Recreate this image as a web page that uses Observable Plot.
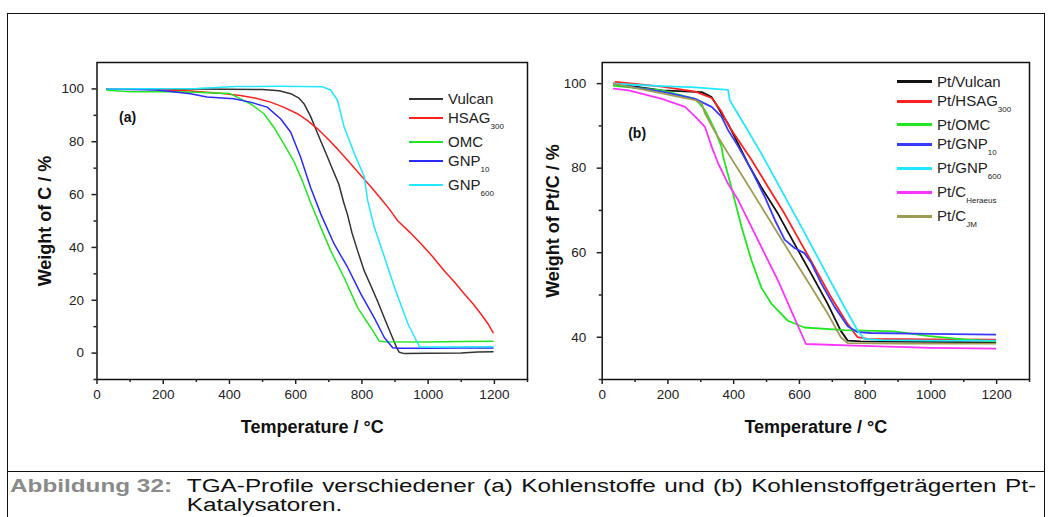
<!DOCTYPE html>
<html>
<head>
<meta charset="utf-8">
<script src="https://cdn.jsdelivr.net/npm/d3@7"></script>
<script src="https://cdn.jsdelivr.net/npm/@observablehq/plot@0.6"></script>
<style>
  html, body { margin: 0; padding: 0; background: #fff; }
  body { font-family: Arial, "Liberation Sans", sans-serif; }
  #fig { position: relative; width: 1049px; height: 517px; overflow: hidden; background: #fff; }
  #box { position: absolute; left: 7px; top: 13px; width: 1038px; height: 540px;
         border: 1.5px solid #111; box-sizing: border-box; }
  #sep { position: absolute; left: 7px; top: 471px; width: 1038px; border-top: 1.5px solid #111; }
  .panel { position: absolute; top: 0; }
  .legend { position: absolute; font-size: 15px; color: #222; }
  .legend .row { display: flex; align-items: center; height: 19px; white-space: nowrap; }
  .legend .row.sub { height: 24px; align-items: flex-start; }
  .legend .sw { display: inline-block; height: 0; margin-right: 5px; }
  .legend .row.sub .sw { margin-top: 9px; }
  .legend .row.sub .lbl { margin-top: 1px; }
  .legend sub { font-size: 8px; vertical-align: -6px; }
  /* caption block, set in a widened face */
  #caption { position: absolute; left: 10px; top: 477px; width: 760px; font-size: 18px; line-height: 19px;
             color: #111; transform: scaleX(1.35); transform-origin: 0 0; }
  #caption .lab { position: absolute; left: 0; top: 0; font-weight: bold; color: #8a8a8a; white-space: nowrap; }
  #caption .l1 { margin-left: 131px; white-space: nowrap; text-align: justify; text-align-last: justify; }
  #caption .l2 { margin-left: 131px; white-space: nowrap; }
</style>
</head>
<body>
<div id="fig">
  <div id="box"></div>
  <div id="sep"></div>
  <div id="panelA" class="panel" style="left:0px"></div>
  <div id="panelB" class="panel" style="left:500px"></div>
  <div id="legA" class="legend" style="left:409px; top:89px"></div>
  <div id="legB" class="legend" style="left:897px; top:72px"></div>
  <div id="caption">
    <div class="lab">Abbildung 32:</div>
    <div class="l1">TGA-Profile verschiedener (a) Kohlenstoffe und (b) Kohlenstoffgeträgerten Pt-</div>
    <div class="l2">Katalysatoren.</div>
  </div>
</div>
<script>
// ---- axis ticks ----
const xMajorTicks = [0, 200, 400, 600, 800, 1000, 1200];
const xMinorTicks = [100, 300, 500, 700, 900, 1100, 1300];
const yMajorTicksA = [0, 20, 40, 60, 80, 100];
const yMinorTicksA = [-10, 10, 30, 50, 70, 90];
const yMajorTicksB = [40, 60, 80, 100];
const yMinorTicksB = [30, 50, 70, 90];

// ---- (a) carbon supports: [temperature °C, weight %] ----
const vulcan = [[30,100],[300,100],[500,99.8],[550,99.3],[585,98.2],[610,96.5],[625,94.4],[645,89.6],[660,85],[675,80.5],[690,76],[710,70],[730,64],[745,57],[756,52.6],[770,45.5],[787,38.7],[807,31.1],[827,25.5],[847,19.7],[868,13.2],[888,7.1],[905,2],[913,0.3],[928,-0.2],[1000,-0.1],[1100,0],[1150,0.4],[1196,0.5]];
const hsag300 = [[30,100],[150,99.9],[282,99.2],[360,98.5],[433,97.5],[480,96.5],[524,95],[565,93],[605,90.6],[636,88],[666,84.9],[696,81.2],[726,77.3],[760,72.5],[797,67.2],[828,62.8],[858,58.3],[884,54.3],[908,50.1],[944,45.8],[979,41.3],[1015,36.3],[1049,31.1],[1080,26.8],[1110,22.3],[1136,18.6],[1160,14.7],[1180,11.2],[1196,7.7]];
const omc = [[30,99.5],[100,98.9],[250,98.9],[400,98.3],[423,96.9],[463,94.4],[504,90.6],[534,85.5],[564,79.2],[595,72.5],[620,65.2],[645,57],[676,47.5],[706,38.7],[746,28.6],[787,17.2],[827,9.6],[852,4.6],[870,4.3],[1000,4.2],[1100,4.4],[1196,4.5]];
const gnp10 = [[30,100],[181,99.6],[282,98.2],[332,96.9],[413,96.3],[463,95],[514,93.1],[555,88.6],[585,83.6],[615,74.1],[645,62.7],[676,52.6],[716,41.3],[757,32.4],[797,22.3],[837,13.4],[868,5.8],[893,2],[910,1.8],[1000,1.8],[1100,1.9],[1196,1.9]];
const gnp600 = [[30,100],[300,100.2],[420,100.9],[550,101],[680,100.8],[705,99.6],[726,95.8],[746,85.7],[777,75.6],[807,66.8],[817,57.9],[837,47.8],[868,36.4],[898,25],[939,11.1],[974,2.3],[1050,2.3],[1196,2.4]];

// ---- (b) Pt on carbon catalysts: [temperature °C, weight %] ----
const ptVulcan = [[35,100],[182,98.4],[303,98],[333,96.8],[343,95.6],[363,92.9],[383,90.5],[403,87.4],[444,81],[484,75.5],[535,69.2],[585,62.1],[636,55],[686,47.9],[726,41.5],[747,39.2],[787,39],[1000,38.9],[1196,38.8]];
const ptHsag300 = [[40,100.4],[70,100.2],[182,99.3],[283,98.1],[333,96.6],[363,93.4],[383,90.3],[403,87.9],[454,82],[505,75.5],[555,69.2],[606,62.1],[646,56.6],[696,49.5],[747,43.1],[777,40],[807,39.6],[1000,39.5],[1196,39.4]];
const ptOmc = [[35,99.5],[182,98.4],[283,96.4],[313,93.7],[343,89],[363,85.1],[368,82.7],[393,75.5],[424,66.1],[454,58.2],[484,51.8],[515,47.9],[565,43.9],[615,42.3],[737,41.7],[888,41.4],[989,40.3],[1100,39.5],[1196,39]];
const ptGnp10 = [[35,100],[80,99.3],[182,98.1],[283,96.4],[333,94.5],[363,92.2],[383,89],[414,85.1],[454,79.6],[494,73.3],[525,67.8],[555,63.1],[585,61.1],[615,59.9],[636,57.6],[666,52.8],[706,47.3],[747,42.6],[777,41.2],[817,41],[1000,40.8],[1196,40.6]];
const ptGnp600 = [[35,100],[80,99.8],[182,99.4],[283,99.1],[383,98.5],[388,96.1],[424,91.4],[484,83.5],[545,74.8],[606,66.1],[666,57.4],[726,48.7],[777,41.6],[797,39.6],[850,39.3],[1000,39.2],[1196,39.2]];
const ptCHeraeus = [[35,98.8],[80,98.4],[182,96.4],[252,94.5],[283,92.2],[313,89.7],[333,85.1],[353,81.1],[383,76.3],[414,72.4],[454,66.1],[494,59.8],[535,53.4],[575,46.3],[620,38.4],[767,38],[1000,37.5],[1196,37.3]];
const ptCJM = [[35,100],[80,99.3],[182,97.7],[283,96.1],[303,95.3],[313,92.9],[343,88.6],[383,83.5],[434,77.2],[484,70.9],[535,64.5],[585,58.2],[636,51.9],[686,45.6],[726,40],[747,38.6],[900,38.5],[1196,38.5]];

// ---- series names (with subscripts) and colours ----
const seriesA = [
  {name: "Vulcan", sub: "", pts: vulcan, color: "#333333"},
  {name: "HSAG", sub: "300", pts: hsag300, color: "#ff2020"},
  {name: "OMC", sub: "", pts: omc, color: "#22e622"},
  {name: "GNP", sub: "10", pts: gnp10, color: "#2a2aff"},
  {name: "GNP", sub: "600", pts: gnp600, color: "#22e8ff"}
];
const seriesB = [
  {name: "Pt/Vulcan", sub: "", pts: ptVulcan, color: "#111111"},
  {name: "Pt/HSAG", sub: "300", pts: ptHsag300, color: "#ff2020"},
  {name: "Pt/OMC", sub: "", pts: ptOmc, color: "#22e622"},
  {name: "Pt/GNP", sub: "10", pts: ptGnp10, color: "#3a3aff"},
  {name: "Pt/GNP", sub: "600", pts: ptGnp600, color: "#22e8ff"},
  {name: "Pt/C", sub: "Heraeus", pts: ptCHeraeus, color: "#ff33ff"},
  {name: "Pt/C", sub: "JM", pts: ptCJM, color: "#9c9c55"}
];

const font = "Arial, 'Liberation Sans', sans-serif";

function panel({width, marginLeft, marginRight, yDomain, yMajor, yMinor, yTickPadding,
                series, lineWidth, yTitle, yTitleDx, tag, tagDx, tagDy}) {
  return Plot.plot({
    width, height: 440,
    marginLeft, marginRight, marginTop: 62, marginBottom: 61,
    x: {domain: [0, 1300]},
    y: {domain: yDomain},
    style: {fontFamily: font, fontSize: "13.5px", color: "#222", background: "transparent", overflow: "visible"},
    marks: [
      ...series.map(s => Plot.line(s.pts, {stroke: s.color, strokeWidth: lineWidth})),
      Plot.frame({stroke: "#111", strokeWidth: 1.5}),
      Plot.axisX({ticks: xMajorTicks, tickSize: 5, tickPadding: 5, strokeWidth: 1.5, tickFormat: d => String(d), label: null}),
      Plot.axisX({ticks: xMinorTicks, tickSize: 3, strokeWidth: 1.5, tickFormat: () => "", label: null}),
      Plot.axisY({ticks: yMajor, tickSize: 5, tickPadding: yTickPadding, strokeWidth: 1.5, tickFormat: d => String(d), label: null}),
      Plot.axisY({ticks: yMinor, tickSize: 3, strokeWidth: 1.5, tickFormat: () => "", label: null}),
      Plot.text(["Temperature / °C"], {text: d => d, frameAnchor: "bottom", dy: 48, lineAnchor: "middle",
        fontSize: 18, fontWeight: "bold", fill: "#111"}),
      Plot.text([yTitle], {text: d => d, frameAnchor: "left", dx: yTitleDx, rotate: -90,
        textAnchor: "middle", lineAnchor: "middle", fontSize: 18, fontWeight: "bold", fill: "#111"}),
      Plot.text([tag], {text: d => d, frameAnchor: "top-left", dx: tagDx, dy: tagDy,
        textAnchor: "start", lineAnchor: "middle", fontSize: 14, fontWeight: "bold", fill: "#111"})
    ]
  });
}

document.getElementById("panelA").append(panel({
  width: 540, marginLeft: 96.5, marginRight: 13,
  yDomain: [-10, 110], yMajor: yMajorTicksA, yMinor: yMinorTicksA, yTickPadding: 8,
  series: seriesA, lineWidth: 1.5, yTitle: "Weight of C / %", yTitleDx: -52,
  tag: "(a)", tagDx: 22, tagDy: 55
}));
document.getElementById("panelB").append(panel({
  width: 545, marginLeft: 101.7, marginRight: 16,
  yDomain: [30, 105], yMajor: yMajorTicksB, yMinor: yMinorTicksB, yTickPadding: 11,
  series: seriesB, lineWidth: 1.8, yTitle: "Weight of Pt/C / %", yTitleDx: -49,
  tag: "(b)", tagDx: 26, tagDy: 71
}));

// ---- legends ----
function legend(el, series, swLen, swWidth) {
  for (const s of series) {
    const row = document.createElement("div");
    row.className = "row" + (s.sub ? " sub" : "");
    const sw = document.createElement("span");
    sw.className = "sw";
    sw.style.width = swLen + "px";
    sw.style.borderTop = swWidth + "px solid " + s.color;
    const lbl = document.createElement("span");
    lbl.className = "lbl";
    lbl.textContent = s.name;
    if (s.sub) {
      const sub = document.createElement("sub");
      sub.textContent = s.sub;
      lbl.append(sub);
    }
    row.append(sw, lbl);
    el.append(row);
  }
}
legend(document.getElementById("legA"), seriesA, 34, 2);
legend(document.getElementById("legB"), seriesB, 35, 3);
</script>
</body>
</html>
